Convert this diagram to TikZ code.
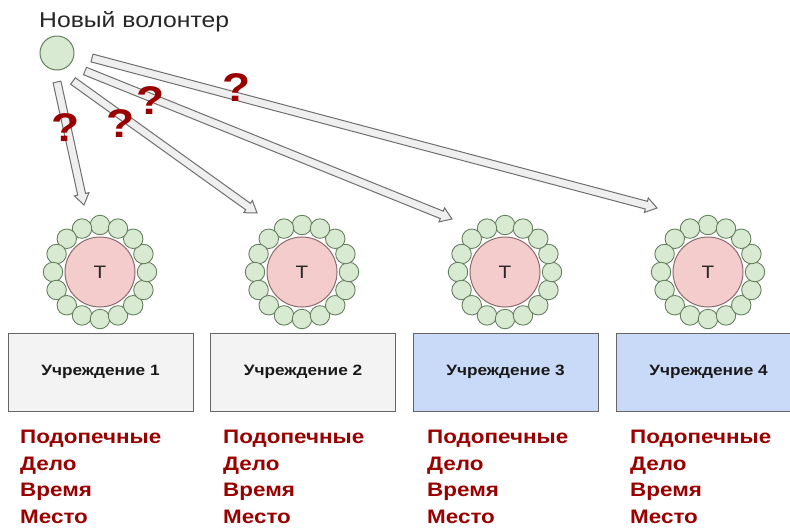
\documentclass[tikz,border=0pt]{standalone}
\usepackage{fontspec}
\setmainfont{Liberation Sans}[FakeStretch=1.15]
\usetikzlibrary{calc}
\definecolor{grn}{HTML}{D9EAD3}
\definecolor{grnline}{HTML}{66805F}
\definecolor{pnk}{HTML}{F4CCCC}
\definecolor{pnkline}{HTML}{8B6B6B}
\definecolor{boxgray}{HTML}{F3F3F3}
\definecolor{boxblue}{HTML}{C9DAF8}
\definecolor{darkred}{HTML}{990000}
\definecolor{arrfill}{HTML}{EFEFEF}
\definecolor{arrline}{HTML}{6F6F6F}
\newcommand\barrow[2]{%
  \coordinate (hh) at ($(#2)!11pt!(#1)$);
  \draw[blockarrow] ($(#1)!4pt!90:(#2)$) -- ($(hh)!4pt!-90:(#1)$) -- ($(hh)!7.5pt!-90:(#1)$) -- (#2) -- ($(hh)!7.5pt!90:(#1)$) -- ($(hh)!4pt!90:(#1)$) -- ($(#1)!4pt!-90:(#2)$) -- cycle;}
\begin{document}
\begin{tikzpicture}[x=1pt,y=-1pt,
  blockarrow/.style={draw=arrline,fill=arrfill,line width=1pt,line join=miter},
  vol/.style={circle,draw=grnline,fill=grn,line width=1pt,minimum size=34pt,inner sep=0pt},
  small/.style={circle,draw=grnline,fill=grn,line width=0.9pt,minimum size=19.5pt,inner sep=0pt},
  tnode/.style={circle,draw=pnkline,fill=pnk,line width=1pt,minimum size=70pt,inner sep=0pt,font=\fontsize{18}{18}\selectfont,text=black!85},
  inst/.style={draw=black!60,line width=1pt,minimum width=185pt,minimum height=78pt,inner sep=0pt,font=\bfseries\fontsize{15}{16}\selectfont,text=black!90},
  qm/.style={text=darkred,font=\bfseries\fontsize{40}{40}\selectfont,inner sep=0pt},
  red/.style={text=darkred,font=\bfseries\fontsize{19.5}{26.6}\selectfont,anchor=north west,align=left,inner sep=0pt}]
\useasboundingbox (0,0) rectangle (790,528);
\fill[white] (0,0) rectangle (790,528);
% volunteer
\node[anchor=west,inner sep=0pt,font=\fontsize{21.5}{21.5}\selectfont,text=black!85] (title) at (39,22) {Новый волонтер};
\node[vol] (v) at (57,53) {};
% clusters
\foreach \k/\x in {1/100,2/302,3/505,4/708}{
  \node[tnode] (t\k) at (\x,272) {Т};
  \foreach \i in {0,...,15}{
    \node[small] (c\k-\i) at ($(t\k)+({90+\i*22.5}:47pt)$) {};
  }
}
% institutions
\node[inst,fill=boxgray] (u1) at (100.5,372) {Учреждение 1};
\node[inst,fill=boxgray] (u2) at (303,372) {Учреждение 2};
\node[inst,fill=boxblue] (u3) at (505.5,372) {Учреждение 3};
\node[inst,fill=boxblue] (u4) at (708.5,372) {Учреждение 4};
% red lists
\foreach \k/\x in {1/20,2/223,3/427,4/630}{
  \node[red] (r\k) at (\x,430) {Подопечные\\Дело\\Время\\Место};
}
% arrows
\coordinate (s1) at (57,82);   \coordinate (e1) at (84,205);
\coordinate (s2) at (73,81);   \coordinate (e2) at (257,213);
\coordinate (s3) at (85,71);   \coordinate (e3) at (452,219);
\coordinate (s4) at (92,58);   \coordinate (e4) at (657,208);
\barrow{s1}{e1}
\barrow{s2}{e2}
\barrow{s3}{e3}
\barrow{s4}{e4}
% question marks
\node[qm] (q1) at (66,128) {?};
\node[qm] (q2) at (121,124) {?};
\node[qm] (q3) at (151,101) {?};
\node[qm] (q4) at (237,88) {?};
\end{tikzpicture}
\end{document}
